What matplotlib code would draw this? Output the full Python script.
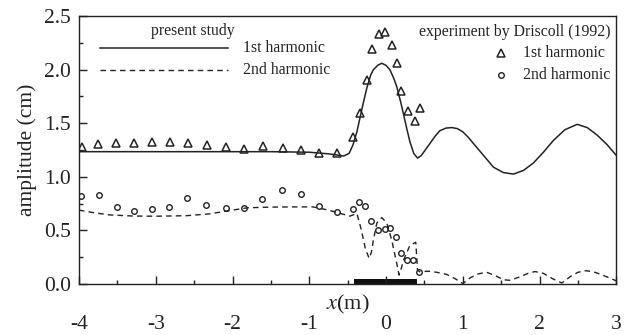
import matplotlib
matplotlib.use('Agg')
import matplotlib.pyplot as plt
from matplotlib.ticker import MultipleLocator, FormatStrFormatter

plt.rcParams['font.family'] = 'Liberation Serif'
plt.rcParams['mathtext.fontset'] = 'stix'
plt.rcParams['axes.unicode_minus'] = False

# present study, 1st harmonic (solid)
sol_x = [-4.0, -3.0, -2.0, -1.5, -1.0, -0.75, -0.55, -0.48, -0.43, -0.38, -0.34, -0.29,
         -0.25, -0.20, -0.165, -0.11, -0.056, 0.0, 0.05, 0.10, 0.14, 0.19, 0.226, 0.27,
         0.31, 0.36, 0.41, 0.46, 0.51, 0.57, 0.64, 0.70, 0.78, 0.857, 0.93, 1.0, 1.07,
         1.14, 1.27, 1.40, 1.53, 1.66, 1.79, 1.92, 2.05, 2.18, 2.33, 2.49, 2.62, 2.75,
         2.88, 3.0]
sol_y = [1.235, 1.235, 1.235, 1.235, 1.23, 1.215, 1.195, 1.22, 1.30, 1.42, 1.55, 1.71,
         1.83, 1.95, 2.00, 2.04, 2.06, 2.04, 2.00, 1.92, 1.84, 1.70, 1.59, 1.45,
         1.33, 1.22, 1.175, 1.20, 1.25, 1.31, 1.38, 1.43, 1.455, 1.46, 1.45, 1.42, 1.37,
         1.31, 1.20, 1.09, 1.04, 1.026, 1.06, 1.13, 1.23, 1.34, 1.44, 1.49, 1.46, 1.39,
         1.30, 1.20]

# present study, 2nd harmonic (dashed)
dash_x = [-4.0, -3.8, -3.6, -3.3, -3.0, -2.6, -2.3, -2.0, -1.8, -1.5, -1.2, -0.95, -0.75,
          -0.6, -0.47, -0.38, -0.32, -0.27, -0.22, -0.19, -0.165, -0.12, -0.056, 0.01,
          0.074, 0.14, 0.17, 0.20, 0.226, 0.31, 0.387, 0.40, 0.41, 0.44, 0.55, 0.66, 0.79,
          0.90, 1.0, 1.1, 1.2, 1.31, 1.42, 1.53, 1.62, 1.75, 1.85, 1.94, 2.05, 2.17, 2.29,
          2.40, 2.5, 2.6, 2.7, 2.8, 2.9, 3.0]
dash_y = [0.69, 0.665, 0.645, 0.635, 0.633, 0.638, 0.655, 0.69, 0.712, 0.718, 0.72, 0.72, 0.69,
          0.66, 0.634, 0.66, 0.50, 0.33, 0.24, 0.30, 0.41, 0.57, 0.62, 0.57,
          0.41, 0.19, 0.084, 0.15, 0.22, 0.36, 0.39, 0.25, 0.13, 0.115, 0.12, 0.11, 0.09,
          0.05, 0.005, 0.06, 0.095, 0.11, 0.08, 0.04, 0.035, 0.07, 0.10, 0.117, 0.10, 0.05, 0.01,
          0.07, 0.11, 0.125, 0.115, 0.09, 0.06, 0.03]

# experiment by Driscoll (1992)
tri_x = [-3.96, -3.75, -3.52, -3.29, -3.05, -2.82, -2.58, -2.33, -2.09, -1.85, -1.60, -1.34,
         -1.11, -0.87, -0.64, -0.43, -0.34, -0.25, -0.186, -0.09, -0.02, 0.074, 0.14, 0.20,
         0.28, 0.378, 0.44]
tri_y = [1.28, 1.31, 1.32, 1.32, 1.33, 1.33, 1.32, 1.30, 1.28, 1.26, 1.29, 1.27,
         1.25, 1.22, 1.225, 1.37, 1.60, 1.90, 2.19, 2.33, 2.35, 2.23, 2.06, 1.80,
         1.61, 1.52, 1.645]
cir_x = [-3.97, -3.74, -3.51, -3.29, -3.05, -2.83, -2.59, -2.34, -2.09, -1.85, -1.61, -1.35,
         -1.11, -0.87, -0.64, -0.43, -0.35, -0.27, -0.19, -0.10, -0.02, 0.045, 0.13, 0.196,
         0.275, 0.345, 0.435]
cir_y = [0.82, 0.83, 0.72, 0.68, 0.70, 0.72, 0.80, 0.74, 0.71, 0.71, 0.79, 0.88,
         0.84, 0.73, 0.67, 0.70, 0.77, 0.73, 0.59, 0.50, 0.51, 0.52, 0.44, 0.29,
         0.22, 0.22, 0.115]

# submerged bar
bar_span = [-0.42, 0.40]
bar_height = 0.045

ink = '#222222'

fig = plt.figure(figsize=(6.27, 3.35), dpi=100)
ax = fig.add_axes([0.126, 0.152, 0.857, 0.800])

ax.plot(sol_x, sol_y, color=ink, lw=1.1)
ax.plot(dash_x, dash_y, color=ink, lw=1.0, dashes=(4, 3))
ax.plot(tri_x, tri_y, ls='none', marker='^', ms=5.5, mfc='none', mec=ink, mew=1.1)
ax.plot(cir_x, cir_y, ls='none', marker='o', ms=4, mfc='none', mec=ink, mew=1.0)
ax.fill_between(bar_span, 0, bar_height, color='#111111', lw=0)

ax.set_xlim(-4, 3)
ax.set_ylim(0, 2.5)
ax.xaxis.set_major_locator(MultipleLocator(1))
ax.xaxis.set_minor_locator(MultipleLocator(0.5))
ax.yaxis.set_major_locator(MultipleLocator(0.5))
ax.yaxis.set_minor_locator(MultipleLocator(0.25))
ax.yaxis.set_major_formatter(FormatStrFormatter('%.1f'))
ax.tick_params(which='both', direction='in', top=False, right=False, color=ink,
               labelsize=15.5, labelcolor=ink, width=1.0)
ax.tick_params(which='major', length=6)
ax.tick_params(which='minor', length=3)
ax.tick_params(axis='x', which='major', pad=22)
ax.tick_params(axis='y', which='major', pad=6)
for s in ax.spines.values():
    s.set_color(ink)
    s.set_linewidth(1.0)

ax.set_ylabel('amplitude (cm)', fontsize=15.5, color=ink)
ax.yaxis.set_label_coords(-0.078, 0.5)
ax.set_xlabel(r'$x$(m)', fontsize=16, color=ink)
ax.xaxis.set_label_coords(0.5, -0.033)

# legend: present study
ax.text(-2.52, 2.36, 'present study', fontsize=11.3, color=ink, ha='center', va='center')
ax.plot([-3.73, -2.06], [2.20, 2.20], color=ink, lw=1.1)
ax.plot([-3.73, -2.06], [2.00, 2.00], color=ink, lw=1.0, dashes=(4, 3))
ax.text(-1.86, 2.20, '1st harmonic', fontsize=11.3, color=ink, va='center')
ax.text(-1.86, 2.00, '2nd harmonic', fontsize=11.3, color=ink, va='center')

# legend: experiment
ax.text(2.92, 2.35, 'experiment by Driscoll (1992)', fontsize=11.3, color=ink, ha='right', va='center')
ax.plot([1.50], [2.155], ls='none', marker='^', ms=5.5, mfc='none', mec=ink, mew=1.1)
ax.plot([1.50], [1.95], ls='none', marker='o', ms=4, mfc='none', mec=ink, mew=1.0)
ax.text(1.79, 2.155, '1st harmonic', fontsize=11.3, color=ink, va='center')
ax.text(1.79, 1.95, '2nd harmonic', fontsize=11.3, color=ink, va='center')

fig.savefig('out.png', dpi=100)
